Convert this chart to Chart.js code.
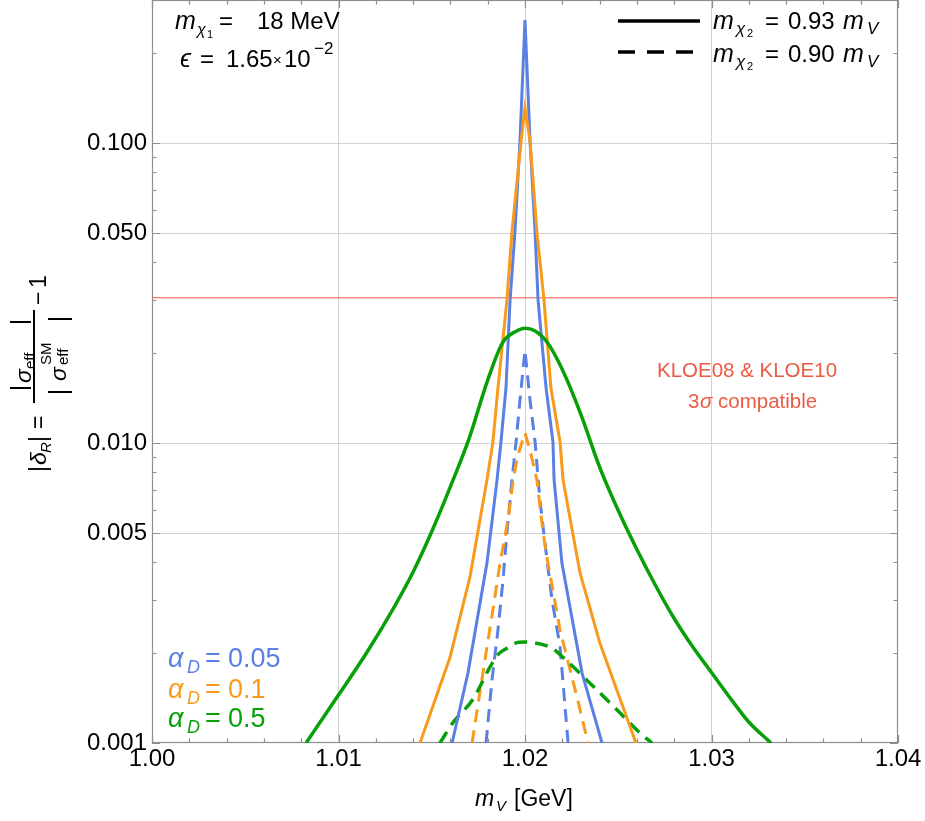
<!DOCTYPE html>
<html><head><meta charset="utf-8">
<script src="https://cdn.jsdelivr.net/npm/chart.js@4.4.0/dist/chart.umd.min.js"></script>
<style>html,body{margin:0;padding:0;background:#fff}#wrap{width:925px;height:821px;position:relative}</style>
</head><body><div id="wrap"><canvas id="c"></canvas></div>
<script>
const xTicks = [1.00, 1.01, 1.02, 1.03, 1.04];
const yTicks = [0.001, 0.005, 0.01, 0.05, 0.1];
const kloeLimit = 0.0305;

// m_chi2 = 0.93 m_V (solid)
const b93X = [1.01609,1.01694,1.01796,1.01850,1.01871,1.01898,1.01920,1.01946,1.01973,1.02000,1.02027,1.02054,1.02070,1.02113,1.02150,1.02156,1.02198,1.02306,1.02413];
const b93Y = [0.001,0.00171,0.00398,0.00753,0.01008,0.01526,0.02997,0.0505,0.1016,0.257,0.1016,0.0505,0.02997,0.01526,0.01008,0.00753,0.00398,0.00171,0.001];
const o93X = [1.01437,1.01598,1.01705,1.01796,1.01828,1.01855,1.01903,1.01930,1.01979,1.02000,1.02027,1.02064,1.02102,1.02139,1.02188,1.02204,1.02295,1.02402,1.02595];
const o93Y = [0.001,0.00193,0.00358,0.00753,0.01008,0.01526,0.02997,0.0505,0.1016,0.131,0.1016,0.0505,0.02997,0.01526,0.01008,0.00753,0.00369,0.00215,0.001];
const g93X = [1.00826,1.0100,1.0115,1.0130,1.0140,1.0150,1.0160,1.0170,1.0180,1.0188,1.0195,1.0200,1.0205,1.0212,1.0220,1.0230,1.0240,1.0250,1.0260,1.0270,1.0280,1.0290,1.0300,1.0310,1.0320,1.03319];
const g93Y = [0.001,0.001445,0.001995,0.002851,0.003715,0.00507,0.007161,0.010351,0.016218,0.021627,0.02355,0.024155,0.023714,0.021627,0.017579,0.012445,0.008318,0.005957,0.004416,0.00335,0.0026,0.002089,0.001718,0.001413,0.001175,0.001];

// m_chi2 = 0.90 m_V (dashed)
const b90X = [1.01791,1.01823,1.01855,1.01882,1.01903,1.01930,1.01952,1.01973,1.02000,1.02027,1.02054,1.02080,1.02118,1.02145,1.02188,1.02231];
const b90Y = [0.001,0.00162,0.00238,0.00349,0.00501,0.00753,0.01008,0.0139,0.0204,0.0139,0.01008,0.00646,0.00407,0.003,0.00209,0.001];
const o90X = [1.01716,1.01796,1.01828,1.01866,1.01909,1.01936,1.01962,1.02000,1.02027,1.02064,1.02097,1.02123,1.02188,1.02279,1.02338];
const o90Y = [0.001,0.00209,0.00278,0.00398,0.00554,0.00753,0.00912,0.0108,0.00948,0.00753,0.00501,0.00398,0.00238,0.00142,0.001];
const g90X = [1.01544,1.01614,1.01721,1.01812,1.01855,1.01903,1.01946,1.02000,1.02080,1.02145,1.02204,1.02332,1.02493,1.02617,1.02681];
const g90Y = [0.001,0.00117,0.0014,0.00179,0.00197,0.00207,0.00215,0.00217,0.00214,0.00207,0.00193,0.00162,0.00129,0.00108,0.001];

const BLUE = '#5b80e4', ORANGE = '#f89a1c', GREEN = '#08a008', RED = '#ec5a46';
const FONT = '"Liberation Sans", Arial, sans-serif';
const pts = (xs, ys) => xs.map((x, i) => ({x, y: ys[i]}));

function line(label, xs, ys, color, dashed, width, smooth){
  return {label, data: pts(xs, ys), borderColor: color, borderWidth: width || 3, borderDash: dashed ? [13, 8] : [],
    pointRadius: 0, fill: false, tension: smooth ? 0.4 : 0, cubicInterpolationMode: smooth ? 'monotone' : 'default'};
}

function txt(ctx, s, x, y, size, italic, color){
  ctx.font = (italic ? 'italic ' : '') + size + 'px ' + FONT;
  ctx.fillStyle = color || '#000';
  ctx.fillText(s, x, y);
}

const decor = {
  id: 'decor',
  beforeDatasetsDraw(chart){
    const {ctx, chartArea: a, scales: {x, y}} = chart;
    ctx.save();
    ctx.strokeStyle = '#8e8e8e'; ctx.lineWidth = 1.2;
    ctx.strokeRect(a.left + 0.5, a.top + 0.5, a.right - a.left - 1, a.bottom - a.top - 1);
    ctx.beginPath();
    for(let i = 0; i <= 20; i++){
      const px = Math.round(x.getPixelForValue(1 + i * 0.002)) + 0.5;
      const len = i % 5 === 0 ? 8 : 4.5;
      ctx.moveTo(px, a.bottom); ctx.lineTo(px, a.bottom - len);
      ctx.moveTo(px, a.top); ctx.lineTo(px, a.top + len);
    }
    for(const d of [0.001, 0.01, 0.1]){
      for(let k = 1; k <= 9; k++){
        const v = k * d;
        if(v > y.max) continue;
        const py = Math.round(y.getPixelForValue(v)) + 0.5;
        const len = yTicks.some(t => Math.abs(t - v) < 1e-9) ? 8 : 4.5;
        ctx.moveTo(a.left, py); ctx.lineTo(a.left + len, py);
        ctx.moveTo(a.right, py); ctx.lineTo(a.right - len, py);
      }
    }
    ctx.stroke();
    ctx.restore();
  },
  afterDraw(chart){
    const {ctx} = chart;
    ctx.save();
    ctx.textBaseline = 'alphabetic'; ctx.textAlign = 'left';
    // top-left parameters
    txt(ctx, 'm', 175, 29, 25, true);
    txt(ctx, 'χ', 197, 35, 16, true);
    txt(ctx, '1', 207, 38, 11, false);
    txt(ctx, '=', 219, 29, 24, false);
    txt(ctx, '18 MeV', 257, 29, 24, false);
    txt(ctx, 'ϵ', 180, 67, 25, true);
    txt(ctx, '=', 200, 67, 24, false);
    txt(ctx, '1.65', 226, 67, 24, false);
    txt(ctx, '×', 273, 65, 15, false);
    txt(ctx, '10', 284, 67, 24, false);
    txt(ctx, '−2', 314, 54, 17, false);
    // top-right legend
    ctx.strokeStyle = '#000'; ctx.lineWidth = 3.5;
    ctx.beginPath(); ctx.moveTo(618, 21); ctx.lineTo(700, 21); ctx.stroke();
    ctx.setLineDash([17, 12]);
    ctx.beginPath(); ctx.moveTo(618, 52); ctx.lineTo(702, 52); ctx.stroke();
    ctx.setLineDash([]);
    [[29, '0.93'], [62, '0.90']].forEach(([by, v]) => {
      txt(ctx, 'm', 713, by, 25, true);
      txt(ctx, 'χ', 736, by + 5, 17, true);
      txt(ctx, '2', 747, by + 8, 11, false);
      txt(ctx, '=', 765, by, 24, false);
      txt(ctx, v, 788, by, 24, false);
      txt(ctx, 'm', 843, by, 25, true);
      txt(ctx, 'V', 867, by + 5, 17, true);
    });
    // alpha_D legend
    [[667, '0.05', BLUE], [698, '0.1', ORANGE], [727, '0.5', GREEN]].forEach(([by, v, c]) => {
      txt(ctx, 'α', 168, by, 27, true, c);
      txt(ctx, 'D', 187, by + 6, 18, true, c);
      txt(ctx, '=', 205, by, 27, false, c);
      txt(ctx, v, 228, by, 27, false, c);
    });
    // KLOE band label
    ctx.textAlign = 'center';
    txt(ctx, 'KLOE08 & KLOE10', 747, 377, 20.5, false, RED);
    ctx.textAlign = 'left';
    txt(ctx, '3', 688, 408, 20.5, false, RED);
    txt(ctx, 'σ', 700, 408, 20.5, true, RED);
    txt(ctx, 'compatible', 718, 408, 20.5, false, RED);
    // x title
    txt(ctx, 'm', 475, 806, 23, true);
    txt(ctx, 'V', 496, 811, 15, true);
    txt(ctx, '[GeV]', 514, 806, 23, false);
    // y title (rotated)
    ctx.rotate(-Math.PI / 2);
    const R = (s, sy, sx, size, italic) => txt(ctx, s, -sy, sx, size, italic);
    R('|', 472, 46, 23, false);
    R('δ', 465, 46, 23, true);
    R('R', 453, 51, 15, true);
    R('|', 442, 46, 23, false);
    R('=', 429, 46, 23, false);
    R('σ', 383, 31, 23, true);
    R('eff', 369, 35, 15, false);
    R('σ', 381, 66, 23, true);
    R('eff', 365, 68, 15, false);
    R('SM', 365, 51, 15, false);
    R('−', 305, 46, 23, false);
    R('1', 288, 46, 23, false);
    ctx.setTransform(1, 0, 0, 1, 0, 0);
    ctx.strokeStyle = '#000'; ctx.lineWidth = 2;
    ctx.beginPath();
    ctx.moveTo(34, 310); ctx.lineTo(34, 403);
    for(const sy of [322, 388]){ ctx.moveTo(10, sy); ctx.lineTo(31, sy); }
    for(const sy of [319, 392]){ ctx.moveTo(48, sy); ctx.lineTo(72, sy); }
    ctx.stroke();
    ctx.restore();
  }
};

new Chart(document.getElementById('c'), {
  type: 'line',
  data: {
    datasets: [
      line('g93', g93X, g93Y, GREEN, false, 3.5, true),
      line('o93', o93X, o93Y, ORANGE, false, 3),
      line('b93', b93X, b93Y, BLUE, false, 3),
      line('g90', g90X, g90Y, GREEN, true, 3.5, true),
      line('o90', o90X, o90Y, ORANGE, true, 3),
      line('b90', b90X, b90Y, BLUE, true, 3),
      {label: 'KLOE', data: [{x: 1.00, y: kloeLimit}, {x: 1.04, y: kloeLimit}], borderColor: RED, borderWidth: 1, pointRadius: 0, fill: false}
    ]
  },
  options: {
    responsive: true, maintainAspectRatio: false, animation: false,
    layout: {padding: {top: 0, right: 27, left: 0, bottom: 0}},
    plugins: {legend: {display: false}, tooltip: {enabled: false}},
    scales: {
      x: {
        type: 'linear', min: 1.00, max: 1.04,
        afterBuildTicks: s => { s.ticks = xTicks.map(v => ({value: v})); },
        afterFit: s => { s.height = 78; s.paddingLeft = 0; s.paddingRight = 0; },
        ticks: {callback: v => Number(v).toFixed(2), font: {family: FONT, size: 24}, color: '#000', padding: 2, maxRotation: 0},
        grid: {drawTicks: false, color: c => (c.tick && (c.tick.value <= 1.0001 || c.tick.value >= 1.0399)) ? 'rgba(0,0,0,0)' : '#d2d2d2', lineWidth: 1},
        border: {display: false}
      },
      y: {
        type: 'logarithmic', min: 0.001, max: 0.3,
        afterBuildTicks: s => { s.ticks = yTicks.map(v => ({value: v})); },
        afterFit: s => { s.width = 152; s.paddingTop = 0; s.paddingBottom = 0; },
        ticks: {callback: v => Number(v).toFixed(3), font: {family: FONT, size: 24}, color: '#000', padding: 5},
        grid: {drawTicks: false, color: c => (c.tick && c.tick.value <= 0.0011) ? 'rgba(0,0,0,0)' : '#d2d2d2', lineWidth: 1},
        border: {display: false}
      }
    }
  },
  plugins: [decor]
});
</script>
</body></html>
